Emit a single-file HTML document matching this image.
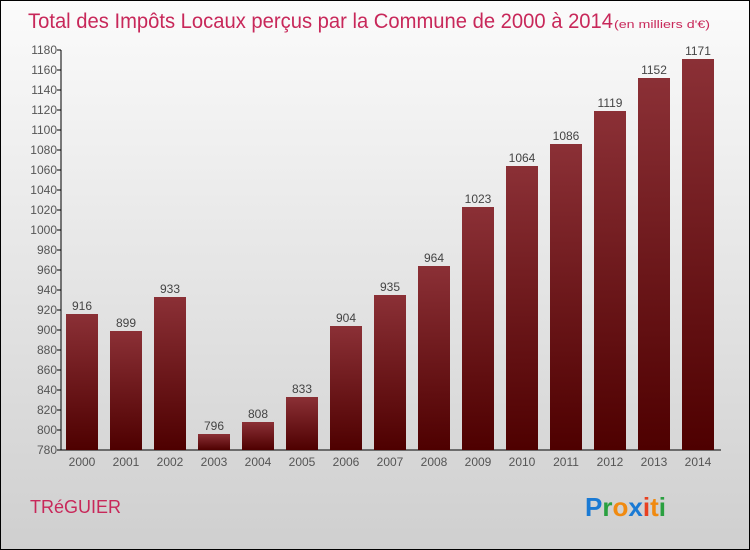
<!DOCTYPE html>
<html><head><meta charset="utf-8"><style>
html,body{margin:0;padding:0}
body{width:750px;height:550px;overflow:hidden;font-family:"Liberation Sans",sans-serif}
#wrap{position:absolute;left:0;top:0;width:748px;height:548px;border:1px solid #000;background:linear-gradient(#fbfbfb,#cfcfcf)}
</style></head><body>
<div id="wrap">
<svg id="chart" width="750" height="550" style="position:absolute;left:-1px;top:-1px">
<defs><linearGradient id="bg" x1="0" y1="0" x2="0" y2="1"><stop offset="0" stop-color="#8b3036"/><stop offset="1" stop-color="#4e0000"/></linearGradient></defs>
<text x="28" y="28" font-size="21" fill="#c8285a" textLength="585" lengthAdjust="spacingAndGlyphs">Total des Impôts Locaux perçus par la Commune de 2000 à 2014</text>
<text x="614" y="28" font-size="11" fill="#c8285a" textLength="96" lengthAdjust="spacingAndGlyphs">(en milliers d'€)</text>
<text x="30" y="513" font-size="18" fill="#c8285a">TRéGUIER</text>
<g font-size="26" font-weight="bold" font-family="Liberation Sans,sans-serif">
<text x="585" y="516"><tspan fill="#1a7ad4">P</tspan><tspan fill="#2aa040">r</tspan><tspan fill="#f08a10">o</tspan><tspan fill="#1a7ad4">x</tspan><tspan fill="#e84020">i</tspan><tspan fill="#f08a10">t</tspan><tspan fill="#2aa040">i</tspan></text>
</g>
</svg>
</div>
<script>
const years=["2000","2001","2002","2003","2004","2005","2006","2007","2008","2009","2010","2011","2012","2013","2014"];
const values=[916,899,933,796,808,833,904,935,964,1023,1064,1086,1119,1152,1171];
const yTicks=[780,800,820,840,860,880,900,920,940,960,980,1000,1020,1040,1060,1080,1100,1120,1140,1160,1180];
const svg=document.getElementById('chart');
const NS='http://www.w3.org/2000/svg';
const yMin=780,yMax=1180,y0=450,y1=50;
function y(v){return y0-(v-yMin)/(yMax-yMin)*(y0-y1);}
function x(i){return 82+i*44;}
function mk(t,a){const e=document.createElementNS(NS,t);for(const k in a)e.setAttribute(k,a[k]);svg.appendChild(e);return e;}
const ax=mk('line',{x1:61,y1:y(yMax),x2:61,y2:y0,stroke:'#000'});


const bx=mk('line',{x1:61,y1:y0,x2:721,y2:y0,stroke:'#000'});


yTicks.forEach(v=>{
 const t=mk('line',{x1:57,y1:y(v),x2:61,y2:y(v),stroke:'#000'});
 
 
 const l=mk('text',{x:57,y:y(v)+4,'font-size':12,'text-anchor':'end',fill:'#555'});
 l.textContent=v;
 
 
});
years.forEach((yr,i)=>{
 const b=mk('rect',{x:x(i)-16,y:y(values[i]),width:32,height:y0-y(values[i]),fill:'url(#bg)'});
 
 
 const v=mk('text',{x:x(i),y:y(values[i])-4,'font-size':12,'text-anchor':'middle',fill:'#444'});
 v.textContent=values[i];
 
 
 const l=mk('text',{x:x(i),y:466,'font-size':12,'text-anchor':'middle',fill:'#555'});
 l.textContent=yr;
 
 
});
</script>
</body></html>
